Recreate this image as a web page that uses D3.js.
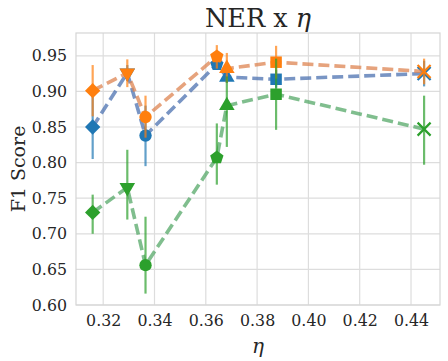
<!DOCTYPE html>
<html>
<head>
<meta charset="utf-8">
<script src="https://cdn.jsdelivr.net/npm/d3@7"></script>
<style>
  body { margin: 0; background: #fff; }
  text { font-family: "DejaVu Serif", serif; fill: #262626; }
</style>
</head>
<body>
<svg id="chart" width="448" height="361"></svg>
<script>
// eta value of each run, one marker shape per run
const etas = [0.3159, 0.3294, 0.3365, 0.3643, 0.3682, 0.3874, 0.4451];
const shapes = ["diamond", "triDown", "circle", "pentagon", "triUp", "square", "cross"];

const blueMean = [0.850, 0.926, 0.838, 0.938, 0.920, 0.917, 0.925];
const blueLow  = [0.805, 0.915, 0.795, 0.930, 0.912, 0.905, 0.907];
const blueHigh = [0.895, 0.937, 0.880, 0.946, 0.928, 0.930, 0.943];

const orangeMean = [0.901, 0.926, 0.864, 0.949, 0.932, 0.941, 0.928];
const orangeLow  = [0.865, 0.906, 0.835, 0.932, 0.912, 0.918, 0.910];
const orangeHigh = [0.937, 0.945, 0.894, 0.965, 0.954, 0.964, 0.946];

const greenMean = [0.730, 0.765, 0.656, 0.807, 0.880, 0.896, 0.847];
const greenLow  = [0.700, 0.720, 0.616, 0.769, 0.822, 0.846, 0.797];
const greenHigh = [0.755, 0.818, 0.724, 0.855, 0.921, 0.946, 0.894];

const xTicks = [0.32, 0.34, 0.36, 0.38, 0.40, 0.42, 0.44];
const yTicks = [0.60, 0.65, 0.70, 0.75, 0.80, 0.85, 0.90, 0.95];

const series = [
  {mean: blueMean, low: blueLow, high: blueHigh, mark: "#1f77b4", line: "#4c72b0"},
  {mean: orangeMean, low: orangeLow, high: orangeHigh, mark: "#ff7f0e", line: "#dd8452"},
  {mean: greenMean, low: greenLow, high: greenHigh, mark: "#2ca02c", line: "#55a868"}
];

const margin = {top: 33, right: 8, bottom: 56, left: 76};
const width = 448 - margin.left - margin.right;
const height = 361 - margin.top - margin.bottom;

const svg = d3.select("#chart");
const g = svg.append("g").attr("transform", `translate(${margin.left},${margin.top})`);

const x = d3.scaleLinear().domain([0.3094, 0.4513]).range([0, width]);
const y = d3.scaleLinear().domain([0.60, 0.982]).range([height, 0]);

// grid
g.append("g").selectAll("line").data(xTicks).enter().append("line")
  .attr("x1", d => x(d)).attr("x2", d => x(d))
  .attr("y1", 0).attr("y2", height)
  .attr("stroke", "#dddddd").attr("stroke-width", 1.2);
g.append("g").selectAll("line").data(yTicks).enter().append("line")
  .attr("x1", 0).attr("x2", width)
  .attr("y1", d => y(d)).attr("y2", d => y(d))
  .attr("stroke", "#dddddd").attr("stroke-width", 1.2);

g.append("rect").attr("width", width).attr("height", height)
  .attr("fill", "none").attr("stroke", "#d5d5d5").attr("stroke-width", 1.2);

// axes (labels only, seaborn whitegrid style)
const xAxis = g.append("g").attr("transform", `translate(0,${height})`)
  .call(d3.axisBottom(x).tickValues(xTicks).tickFormat(d3.format(".2f")).tickSize(0).tickPadding(10));
const yAxis = g.append("g")
  .call(d3.axisLeft(y).tickValues(yTicks).tickFormat(d3.format(".2f")).tickSize(0).tickPadding(9));
[xAxis, yAxis].forEach(a => {
  a.select(".domain").remove();
  a.selectAll("text").style("font-family", "DejaVu Serif").style("font-size", "15.8px").attr("fill", "#262626");
});

const symbolFor = {
  diamond: d3.symbol().type(d3.symbolSquare).size(118),
  triDown: d3.symbol().type(d3.symbolTriangle).size(105),
  circle: d3.symbol().type(d3.symbolCircle).size(120),
  triUp: d3.symbol().type(d3.symbolTriangle).size(105),
  square: d3.symbol().type(d3.symbolSquare).size(132)
};

function pentagonPath(r) {
  const pts = d3.range(5).map(i => {
    const a = -Math.PI / 2 + i * 2 * Math.PI / 5;
    return [r * Math.cos(a), r * Math.sin(a)];
  });
  return "M" + pts.map(p => p.join(",")).join("L") + "Z";
}

const line = d3.line().x(d => x(d[0])).y(d => y(d[1]));

series.forEach(s => {
  const pts = etas.map((e, i) => [e, s.mean[i]]);

  g.append("path").datum(pts)
    .attr("d", line)
    .attr("fill", "none")
    .attr("stroke", s.line)
    .attr("stroke-opacity", 0.75)
    .attr("stroke-width", 3.6)
    .attr("stroke-dasharray", "11,5");

  g.append("g").selectAll("line").data(etas).enter().append("line")
    .attr("x1", d => x(d)).attr("x2", d => x(d))
    .attr("y1", (d, i) => y(s.low[i])).attr("y2", (d, i) => y(s.high[i]))
    .attr("stroke", s.mark).attr("stroke-opacity", 0.7).attr("stroke-width", 2.2);

  const mk = g.append("g").selectAll("g").data(pts).enter().append("g")
    .attr("transform", d => `translate(${x(d[0])},${y(d[1])})`);

  mk.each(function (d, i) {
    const el = d3.select(this);
    const shape = shapes[i];
    if (shape === "cross") {
      el.append("path").attr("d", "M-6.5,-6.5L6.5,6.5M-6.5,6.5L6.5,-6.5")
        .attr("stroke", s.mark).attr("stroke-width", 2.2).attr("fill", "none");
    } else if (shape === "pentagon") {
      el.append("path").attr("d", pentagonPath(7)).attr("fill", s.mark);
    } else {
      const p = el.append("path").attr("d", symbolFor[shape]()).attr("fill", s.mark);
      if (shape === "diamond") p.attr("transform", "rotate(45)");
      if (shape === "triDown") p.attr("transform", "rotate(180)");
    }
  });
});

// titles
svg.append("text")
  .attr("x", margin.left + width / 2).attr("y", 27)
  .attr("text-anchor", "middle").style("font-size", "25.5px")
  .text("NER x ")
  .append("tspan").style("font-style", "italic").text("η");

svg.append("text")
  .attr("x", margin.left + width / 2).attr("y", 353)
  .attr("text-anchor", "middle").style("font-size", "20px").style("font-style", "italic")
  .text("η");

svg.append("text")
  .attr("transform", `translate(25,${margin.top + height / 2}) rotate(-90)`)
  .attr("text-anchor", "middle").style("font-size", "19px")
  .text("F1 Score");
</script>
</body>
</html>
